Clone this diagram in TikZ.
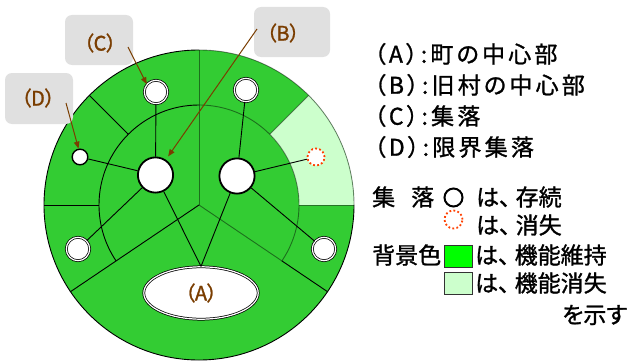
\documentclass[tikz,border=0pt]{standalone}
\usepackage{fontspec}
\setmainfont{Noto Sans CJK JP}
\newfontfamily\jpp[RawFeature=+palt,FakeBold=1.2]{Noto Sans CJK JP}
\newfontfamily\jpt[RawFeature=+palt,FakeBold=1.2,LetterSpace=14]{Noto Sans CJK JP}
\usetikzlibrary{arrows.meta,shapes.geometric}
\definecolor{fgreen}{RGB}{51,204,51}
\definecolor{lgreen}{RGB}{204,255,204}
\definecolor{bgreen}{RGB}{0,255,0}
\definecolor{brn}{RGB}{122,61,0}
\definecolor{dred}{RGB}{255,64,0}
\definecolor{boxgray}{RGB}{224,224,224}
\newcommand{\tou}{、\kern5pt}
\begin{document}
\begin{tikzpicture}[x=1pt,y=1pt,
  sect/.style={line width=0.9pt},
  faint/.style={line width=0.9pt,draw opacity=0.45},
  conn/.style={line width=0.9pt},
  bignode/.style={circle,draw,fill=white,line width=1.8pt,minimum size=35.2pt,inner sep=0pt},
  village/.style={circle,draw,double=white,double distance=1.2pt,line width=0.75pt,fill=white,minimum size=23.4pt,inner sep=0pt},
  limitnode/.style={circle,draw,fill=white,line width=1.4pt,minimum size=15.6pt,inner sep=0pt},
  lostnode/.style={circle,draw=dred,fill=white,line width=1.8pt,dash pattern=on 1.8pt off 2.3pt,minimum size=17pt,inner sep=0pt},
  labbox/.style={fill=boxgray,rounded corners=7pt},
  labtext/.style={text=brn,inner sep=0pt,font=\jpp\fontsize{20}{22}\selectfont},
  callout/.style={draw=brn,line width=1pt,-{Triangle[length=7pt,width=5.5pt]}},
  legtext/.style={anchor=west,inner sep=0pt,font=\jpt\fontsize{23}{25}\selectfont},
  legtextp/.style={anchor=west,inner sep=0pt,font=\jpp\fontsize{23}{25}\selectfont},
  swatch/.style={draw=black!80,line width=0.8pt}
]
\useasboundingbox (0,0) rectangle (628,-361);
\fill[white] (0,0) rectangle (628,-361);
\coordinate (O) at (199,-205);

% background disc and light sector
\fill[fgreen] (O) circle[radius=155];
\fill[lgreen] ([shift={(0:100)}]O) -- ([shift={(0:155)}]O)
  arc[start angle=0,end angle=45,radius=155] -- ([shift={(45:100)}]O)
  arc[start angle=45,end angle=0,radius=100] -- cycle;

% faint dividers (right half)
\draw[faint] (O) -- ([shift={(90:155)}]O);
\draw[faint] (O) -- ([shift={(-34:100)}]O);
\draw[faint] ([shift={(45:100)}]O) -- ([shift={(45:155)}]O);
\draw[faint] ([shift={(0:100)}]O) -- ([shift={(0:155)}]O);
\draw[faint] ([shift={(-34:100)}]O) arc[start angle=-34,end angle=90,radius=100];
\draw[faint] ([shift={(0:155)}]O) arc[start angle=0,end angle=90,radius=155];

% black dividers (left half)
\draw[sect] ([shift={(135:100)}]O) -- ([shift={(135:155)}]O);
\draw[sect] ([shift={(180:100)}]O) -- ([shift={(180:155)}]O);
\draw[sect] (O) -- ([shift={(214:155)}]O);
\draw[sect] ([shift={(-34:100)}]O) -- ([shift={(-34:155)}]O);
\draw[sect] ([shift={(90:100)}]O) arc[start angle=90,end angle=214,radius=100];
\draw[sect] ([shift={(90:155)}]O) arc[start angle=90,end angle=360,radius=155];

% nodes
\node[bignode] (B1) at (155.5,-175) {};
\node[bignode] (B2) at (237,-176) {};
\node[village] (C1) at (156,-92) {};
\node[village] (C2) at (246,-90) {};
\node[village] (C3) at (78,-249) {};
\node[village] (C4) at (324,-249) {};
\node[limitnode] (Dn) at (80,-157) {};
\node[lostnode] (Lost) at (316,-157) {};
\node[ellipse,draw,double=white,double distance=1.2pt,line width=0.75pt,fill=white,
  minimum width=114.4pt,minimum height=52.4pt,inner sep=0pt] (A) at (201,-293) {};
\node[labtext] (Atext) at (201,-293) {（A）};

% connectors
\draw[conn] (B1) -- (C1);
\draw[conn] (B1) -- (Dn);
\draw[conn] (B1) -- (C3);
\draw[conn] (B1) -- (A.north);
\draw[conn] (B2) -- (A.north);
\draw[conn] (B2) -- (C2);
\draw[conn] (B2) -- (Lost);
\draw[conn] (B2) -- (C4);

% callout labels
\fill[labbox] (65,-15) rectangle (133,-65);
\node[labtext] (Ctext) at (100,-43) {（C）};
\fill[labbox] (254,-7) rectangle (330,-57);
\node[labtext] (Btext) at (283,-33) {（B）};
\fill[labbox] (5,-73) rectangle (73,-124);
\node[labtext] (Dtext) at (38,-98) {（D）};
\coordinate (cs) at (128,-47);
\coordinate (bs) at (257,-29);
\coordinate (ds) at (66,-103);
\draw[callout] (cs) -- (C1.140);
\draw[callout,shorten >=4pt] (bs) -- (B1.56);
\draw[callout] (ds) -- (Dn.100);

% legend
\node[legtext] (LA) at (374,-54) {（A）:町の中心部};
\node[legtext] (LB) at (374,-85) {（B）:旧村の中心部};
\node[legtext] (LC) at (374,-116) {（C）:集落};
\node[legtext] (LD) at (374,-147) {（D）:限界集落};

\node[legtextp] (L1) at (372,-197) {集\hspace{16pt}落};
\node[circle,draw,line width=2pt,minimum size=18pt,inner sep=0pt] (s1) at (453.5,-197.5) {};
\node[legtextp] (L1b) at (476,-197) {は\tou 存続};
\node[lostnode,minimum size=18pt] (s2) at (453.5,-219.5) {};
\node[legtextp] (L2b) at (476,-225) {は\tou 消失};
\node[legtextp] (L3) at (372,-255) {背景色};
\node[swatch,fill=bgreen,minimum width=28pt,minimum height=22pt,inner sep=0pt] (s3) at (458,-256) {};
\node[legtextp] (L3b) at (475,-255) {は\tou 機能維持};
\node[swatch,fill=lgreen,minimum width=28pt,minimum height=22pt,inner sep=0pt] (s4) at (458,-283) {};
\node[legtextp] (L4b) at (475,-283) {は\tou 機能消失};
\node[legtextp] (L5) at (562,-315) {を示す};
\end{tikzpicture}
\end{document}
